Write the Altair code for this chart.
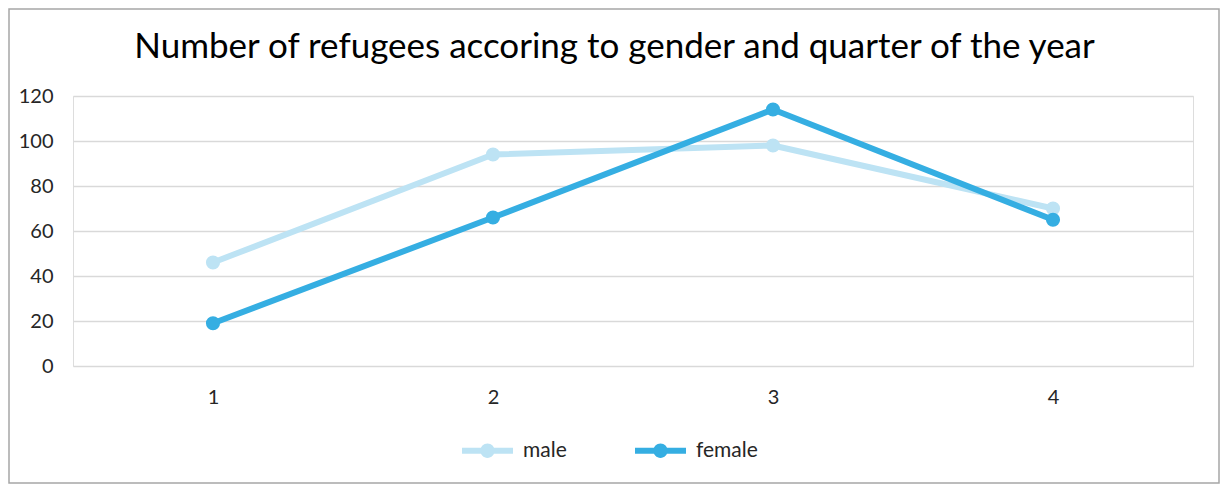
import altair as alt
import pandas as pd

quarters = ["1", "2", "3", "4"]
male = [46, 94, 98, 70]
female = [19, 66, 114, 65]
series = ["male", "female"]
colors = ["#bde3f4", "#35aee2"]
y_ticks = [0, 20, 40, 60, 80, 100, 120]
title_text = "Number of refugees accoring to gender and quarter of the year"

rows = []
for name, vals in zip(series, [male, female]):
    for q, v in zip(quarters, vals):
        rows.append({"quarter": q, "value": v, "gender": name})
df = pd.DataFrame(rows)

W, H = 1120, 270
PAD = {"left": 65, "top": 88, "right": 27, "bottom": 118}
FONT = "Lato"
TXT = "#262626"

legend_path = ("M-1,-0.12H1V0.12H-1Z "
               "M0.28,0A0.28,0.28 0 1,1 -0.28,0A0.28,0.28 0 1,1 0.28,0Z")

color_scale = alt.Scale(domain=series, range=colors)
legend = alt.Legend(title=None, orient="none", direction="horizontal",
                    legendX=389, legendY=329,
                    symbolType=legend_path, symbolSize=2600,
                    symbolStrokeWidth=0, symbolOpacity=1,
                    labelFontSize=21, labelColor=TXT,
                    labelFont=FONT, labelOffset=10,
                    columnPadding=68)
color_enc = alt.Color("gender:N", scale=color_scale, sort=series, legend=legend)

x_enc = alt.X("quarter:O", sort=quarters,
              scale=alt.Scale(type="point", padding=0.5),
              axis=alt.Axis(title=None, labelAngle=0, domain=False, ticks=False,
                            grid=False, labelPadding=21, labelFontSize=20,
                            labelColor=TXT, labelFont=FONT))
y_enc = alt.Y("value:Q", scale=alt.Scale(domain=[0, 120], nice=False),
              axis=alt.Axis(title=None, values=y_ticks, domain=False, ticks=False,
                            grid=True, gridColor="#d9d9d9", gridWidth=1.5,
                            labelPadding=20, labelFontSize=20, labelColor=TXT,
                            labelFont=FONT))

base = alt.Chart(df)

lines = base.mark_line(strokeWidth=6, strokeCap="round", strokeJoin="round").encode(
    x=x_enc, y=y_enc, color=color_enc,
)

points = base.mark_point(filled=True, size=200, opacity=1).encode(
    x=x_enc, y=y_enc, color=color_enc,
)

frame = alt.Chart(pd.DataFrame({"a": [0]})).mark_rect(
    fill=None, stroke="#a6a6a6", strokeWidth=1.5).encode(
    x=alt.value(-PAD["left"] + 1), x2=alt.value(W + PAD["right"] - 1),
    y=alt.value(-PAD["top"] + 1), y2=alt.value(H + PAD["bottom"] - 1),
)

title = alt.Chart(pd.DataFrame({"t": [title_text]})).mark_text(
    font=FONT, fontSize=35, color="#000000", align="center", baseline="alphabetic").encode(
    text="t:N", x=alt.value(541.5), y=alt.value(-38),
)

chart = alt.layer(frame, title, lines, points).properties(
    width=W, height=H,
    autosize=alt.AutoSizeParams(type="none"),
    padding=PAD,
).configure_view(stroke=None).configure(background="white")

chart.save("out.html", embed_options={"renderer": "svg", "actions": False})
